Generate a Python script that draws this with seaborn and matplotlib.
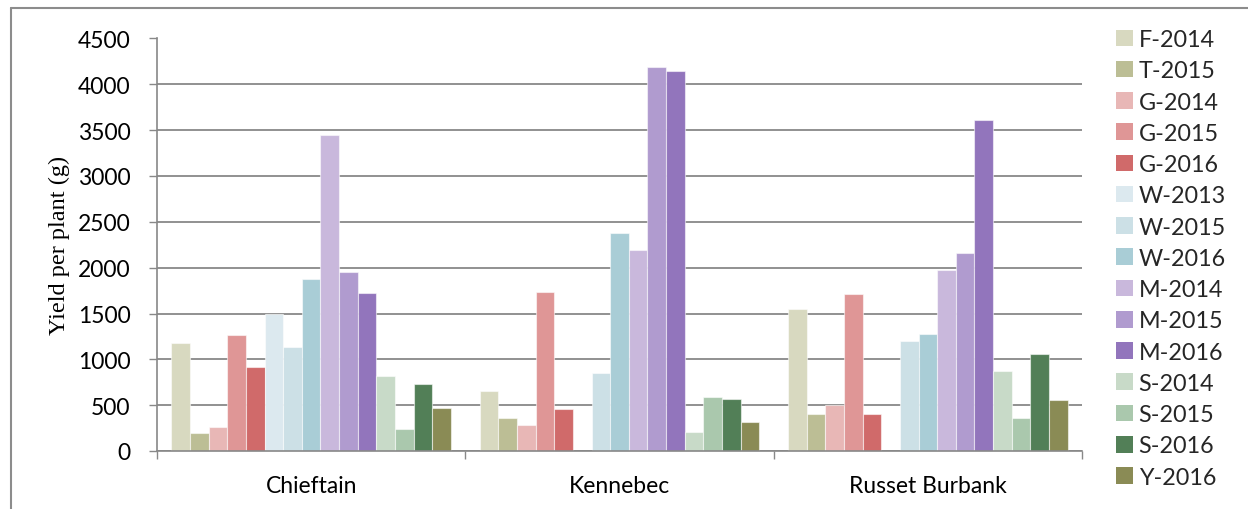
import numpy as np
import pandas as pd
import matplotlib
matplotlib.use("Agg")
import matplotlib.pyplot as plt
from matplotlib.lines import Line2D
from matplotlib.patches import Patch
import seaborn as sns

# Cultivars on the x axis
cultivars = ["Chieftain", "Kennebec", "Russet Burbank"]

# Site/year series (legend order)
series = ["F-2014", "T-2015", "G-2014", "G-2015", "G-2016",
          "W-2013", "W-2015", "W-2016", "M-2014", "M-2015", "M-2016",
          "S-2014", "S-2015", "S-2016", "Y-2016"]

# Yield per plant (g) for each series, one value per cultivar
f_2014 = [1180, 650, 1545]
t_2015 = [200, 365, 400]
g_2014 = [260, 285, 505]
g_2015 = [1270, 1740, 1715]
g_2016 = [920, 455, 400]
w_2013 = [1490, np.nan, np.nan]
w_2015 = [1130, 850, 1205]
w_2016 = [1880, 2375, 1275]
m_2014 = [3450, 2190, 1980]
m_2015 = [1950, 4190, 2165]
m_2016 = [1720, 4145, 3615]
s_2014 = [815, 205, 870]
s_2015 = [235, 585, 365]
s_2016 = [730, 570, 1055]
y_2016 = [470, 320, 555]

values = [f_2014, t_2015, g_2014, g_2015, g_2016, w_2013, w_2015, w_2016,
          m_2014, m_2015, m_2016, s_2014, s_2015, s_2016, y_2016]

colors = ["#D8D9C0", "#BCBE95", "#E8B7B6", "#DF9696", "#D06A6A",
          "#DCE9EF", "#CCE0E6", "#A9CDD6", "#C9B8DC", "#B09BCF", "#9275BC",
          "#C8DAC8", "#AAC8AD", "#527F57", "#8A8B55"]
palette = dict(zip(series, colors))

rows = []
for name, vals in zip(series, values):
    for cv, v in zip(cultivars, vals):
        rows.append({"cultivar": cv, "series": name, "yield": v})
df = pd.DataFrame(rows).dropna()

sns.set_theme(style="white")
plt.rcParams["font.family"] = ["Lato", "DejaVu Sans"]

fig = plt.figure(figsize=(12.48, 5.10), dpi=100)
ax = fig.add_axes([157 / 1248, 58 / 510, 925 / 1248, 412.5 / 510])

sns.barplot(data=df, x="cultivar", y="yield", hue="series",
            order=cultivars, hue_order=series, palette=palette,
            saturation=1, width=0.906, dodge=True, errorbar=None, ax=ax,
            edgecolor=(1, 1, 1, 0.55), linewidth=0.8, legend=False)

grid_col = "#888888"
ax.set_ylim(0, 4500)
ax.set_xlim(-0.5, 2.5)
ax.set_yticks(np.arange(0, 4501, 500))
ax.yaxis.grid(True, color=grid_col, linewidth=1.3)
ax.set_axisbelow(True)

for side in ["top", "right"]:
    ax.spines[side].set_visible(False)
for side in ["left", "bottom"]:
    ax.spines[side].set_color(grid_col)
    ax.spines[side].set_linewidth(1.2)

ax.tick_params(axis="y", which="major", direction="out", length=6,
               width=1.0, color=grid_col, pad=13, labelsize=16.5,
               labelcolor="black", left=True)
ax.set_xticks([0, 1, 2])
ax.set_xticklabels(cultivars)
ax.set_xticks([-0.5, 0.5, 1.5, 2.5], minor=True)
ax.tick_params(axis="x", which="major", length=0, pad=17, labelsize=16.5,
               labelcolor="black")
ax.tick_params(axis="x", which="minor", direction="out", length=6,
               width=1.0, color=grid_col, bottom=True)

ax.set_xlabel("")
ax.set_ylabel("Yield per plant (g)", family="Liberation Serif",
              fontsize=17.5, labelpad=6, color="black")

handles = [Patch(facecolor=palette[s], edgecolor="none") for s in series]
fig.legend(handles, series, loc="upper left",
           bbox_to_anchor=(1116 / 1248, 1 - 30 / 510),
           frameon=False, fontsize=16.8, handlelength=0.72,
           handleheight=0.72, handletextpad=0.25, labelspacing=0.44,
           borderaxespad=0, borderpad=0)

# Outer chart frame (left and top edges)
x0 = 11 / 1248
y0 = 1 - 9 / 510
fig.add_artist(Line2D([x0, x0], [-0.05, y0], color="#8C8C8C", lw=1.5))
fig.add_artist(Line2D([x0, 1.05], [y0, y0], color="#8C8C8C", lw=1.5))

fig.savefig("out.png", dpi=100)
